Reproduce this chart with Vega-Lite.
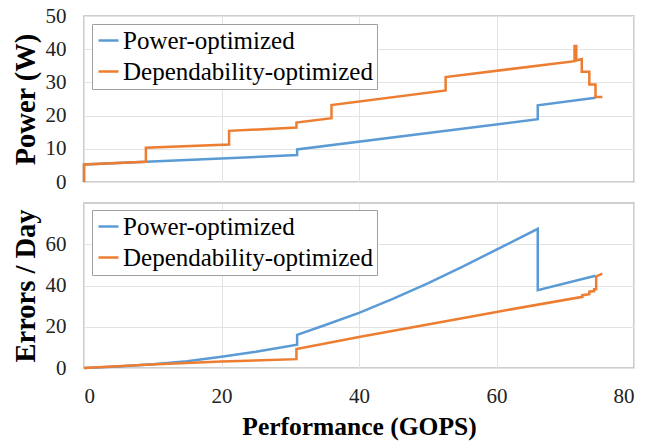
{
  "$schema": "https://vega.github.io/schema/vega-lite/v6.json",
  "padding": {"left": 10, "top": 4, "right": 9, "bottom": 0},
  "background": "white",
  "bounds": "flush",
  "spacing": 21,
  "datasets": {
    "power": [
      {"s": "Power-optimized", "i": 1, "g": 0, "v": 0},
      {"s": "Power-optimized", "i": 2, "g": 0, "v": 5.3},
      {"s": "Power-optimized", "i": 3, "g": 9, "v": 6.1},
      {"s": "Power-optimized", "i": 4, "g": 31, "v": 8.1},
      {"s": "Power-optimized", "i": 5, "g": 31, "v": 9.8},
      {"s": "Power-optimized", "i": 6, "g": 66, "v": 18.9},
      {"s": "Power-optimized", "i": 7, "g": 66, "v": 23.1},
      {"s": "Power-optimized", "i": 8, "g": 74.4, "v": 25.4},
      {"s": "Dependability-optimized", "i": 1, "g": 0, "v": 0},
      {"s": "Dependability-optimized", "i": 2, "g": 0, "v": 5.3},
      {"s": "Dependability-optimized", "i": 3, "g": 9, "v": 6.1},
      {"s": "Dependability-optimized", "i": 4, "g": 9, "v": 10.3},
      {"s": "Dependability-optimized", "i": 5, "g": 21.1, "v": 11.3},
      {"s": "Dependability-optimized", "i": 6, "g": 21.1, "v": 15.4},
      {"s": "Dependability-optimized", "i": 7, "g": 30.9, "v": 16.4},
      {"s": "Dependability-optimized", "i": 8, "g": 30.9, "v": 17.9},
      {"s": "Dependability-optimized", "i": 9, "g": 36, "v": 19.2},
      {"s": "Dependability-optimized", "i": 10, "g": 36, "v": 23.2},
      {"s": "Dependability-optimized", "i": 11, "g": 52.6, "v": 27.6},
      {"s": "Dependability-optimized", "i": 12, "g": 52.6, "v": 31.6},
      {"s": "Dependability-optimized", "i": 13, "g": 71.35, "v": 36.4},
      {"s": "Dependability-optimized", "i": 14, "g": 71.35, "v": 41},
      {"s": "Dependability-optimized", "i": 15, "g": 71.6, "v": 41},
      {"s": "Dependability-optimized", "i": 16, "g": 71.6, "v": 36.6},
      {"s": "Dependability-optimized", "i": 17, "g": 72.4, "v": 37},
      {"s": "Dependability-optimized", "i": 18, "g": 72.4, "v": 33.2},
      {"s": "Dependability-optimized", "i": 19, "g": 73.5, "v": 33.2},
      {"s": "Dependability-optimized", "i": 20, "g": 73.5, "v": 29.4},
      {"s": "Dependability-optimized", "i": 21, "g": 74.4, "v": 29.4},
      {"s": "Dependability-optimized", "i": 22, "g": 74.4, "v": 25.6},
      {"s": "Dependability-optimized", "i": 23, "g": 75.4, "v": 25.6}
    ],
    "errors": [
      {"s": "Power-optimized", "i": 1, "g": 0, "v": 0},
      {"s": "Power-optimized", "i": 2, "g": 5, "v": 0.7},
      {"s": "Power-optimized", "i": 3, "g": 10, "v": 1.8},
      {"s": "Power-optimized", "i": 4, "g": 15, "v": 3.3},
      {"s": "Power-optimized", "i": 5, "g": 20, "v": 5.5},
      {"s": "Power-optimized", "i": 6, "g": 25, "v": 7.9},
      {"s": "Power-optimized", "i": 7, "g": 31, "v": 11.3},
      {"s": "Power-optimized", "i": 8, "g": 31, "v": 16.1},
      {"s": "Power-optimized", "i": 9, "g": 35, "v": 20.7},
      {"s": "Power-optimized", "i": 10, "g": 40, "v": 26.7},
      {"s": "Power-optimized", "i": 11, "g": 45, "v": 33.6},
      {"s": "Power-optimized", "i": 12, "g": 50, "v": 41},
      {"s": "Power-optimized", "i": 13, "g": 55, "v": 49},
      {"s": "Power-optimized", "i": 14, "g": 60, "v": 57.4},
      {"s": "Power-optimized", "i": 15, "g": 66, "v": 67.5},
      {"s": "Power-optimized", "i": 16, "g": 66, "v": 37.7},
      {"s": "Power-optimized", "i": 17, "g": 74.4, "v": 44.7},
      {"s": "Dependability-optimized", "i": 1, "g": 0, "v": 0},
      {"s": "Dependability-optimized", "i": 2, "g": 9, "v": 1.6},
      {"s": "Dependability-optimized", "i": 3, "g": 20, "v": 3.1},
      {"s": "Dependability-optimized", "i": 4, "g": 30.9, "v": 4.3},
      {"s": "Dependability-optimized", "i": 5, "g": 30.9, "v": 9.2},
      {"s": "Dependability-optimized", "i": 6, "g": 40, "v": 15},
      {"s": "Dependability-optimized", "i": 7, "g": 50, "v": 21.1},
      {"s": "Dependability-optimized", "i": 8, "g": 60, "v": 27.2},
      {"s": "Dependability-optimized", "i": 9, "g": 72.5, "v": 34.5},
      {"s": "Dependability-optimized", "i": 10, "g": 72.5, "v": 35.3},
      {"s": "Dependability-optimized", "i": 11, "g": 73.5, "v": 35.8},
      {"s": "Dependability-optimized", "i": 12, "g": 73.5, "v": 37},
      {"s": "Dependability-optimized", "i": 13, "g": 74.2, "v": 37.3},
      {"s": "Dependability-optimized", "i": 14, "g": 74.2, "v": 38.2},
      {"s": "Dependability-optimized", "i": 15, "g": 74.5, "v": 38.3},
      {"s": "Dependability-optimized", "i": 16, "g": 74.5, "v": 44.4},
      {"s": "Dependability-optimized", "i": 17, "g": 75.4, "v": 45.8}
    ]
  },
  "vconcat": [
    {
      "width": 550,
      "height": 166,
      "data": {"name": "power"},
      "encoding": {
        "x": {"field": "g", "type": "quantitative", "scale": {"domain": [0, 80], "nice": false},
              "axis": {"title": null, "labels": false, "values": [0, 20, 40, 60, 80], "grid": true}},
        "y": {"field": "v", "type": "quantitative", "scale": {"domain": [0, 50], "nice": false},
              "axis": {"title": "Power (W)", "values": [0, 10, 20, 30, 40, 50], "labelPadding": 18, "titleX": -50}},
        "color": {"field": "s", "type": "nominal",
                  "scale": {"domain": ["Power-optimized", "Dependability-optimized"], "range": ["#5B9BD5", "#ED7D31"]},
                  "legend": {"title": null, "orient": "none", "legendX": 8, "legendY": 8}},
        "order": {"field": "i", "type": "quantitative"}
      },
      "layer": [
        {"transform": [{"filter": "datum.s === 'Power-optimized'"}], "mark": {"type": "line", "strokeWidth": 2.5}},
        {"transform": [{"filter": "datum.s === 'Dependability-optimized'"}], "mark": {"type": "line", "strokeWidth": 2.5}}
      ]
    },
    {
      "width": 550,
      "height": 165,
      "data": {"name": "errors"},
      "encoding": {
        "x": {"field": "g", "type": "quantitative", "scale": {"domain": [0, 80], "nice": false},
              "axis": {"title": "Performance (GOPS)", "values": [0, 20, 40, 60, 80], "grid": true, "labelPadding": 17,
                       "titleY": 66, "titleBaseline": "alphabetic", "titleFontSize": 25.5}},
        "y": {"field": "v", "type": "quantitative", "scale": {"domain": [0, 80], "nice": false},
              "axis": {"title": "Errors / Day", "values": [0, 20, 40, 60], "labelPadding": 18, "titleX": -50}},
        "color": {"field": "s", "type": "nominal",
                  "scale": {"domain": ["Power-optimized", "Dependability-optimized"], "range": ["#5B9BD5", "#ED7D31"]},
                  "legend": {"title": null, "orient": "none", "legendX": 8, "legendY": 7}},
        "order": {"field": "i", "type": "quantitative"}
      },
      "layer": [
        {"transform": [{"filter": "datum.s === 'Power-optimized'"}], "mark": {"type": "line", "strokeWidth": 2.5}},
        {"transform": [{"filter": "datum.s === 'Dependability-optimized'"}], "mark": {"type": "line", "strokeWidth": 2.5}}
      ]
    }
  ],
  "resolve": {"scale": {"color": "independent"}, "legend": {"color": "independent"}},
  "config": {
    "view": {"stroke": "#bfbfbf", "strokeWidth": 1.5},
    "axis": {
      "labelFont": "Liberation Serif, Times New Roman, serif", "labelFontSize": 21, "labelColor": "#222222",
      "titleFont": "Liberation Serif, Times New Roman, serif", "titleFontWeight": "bold", "titleFontSize": 28.5, "titleColor": "#000000",
      "titleBaseline": "alphabetic",
      "gridColor": "#e3e3e3", "gridWidth": 1, "domain": false, "ticks": false
    },
    "legend": {
      "labelFont": "Liberation Serif, Times New Roman, serif", "labelFontSize": 25, "labelColor": "#000000", "labelLimit": 400,
      "symbolType": "stroke", "symbolSize": 400, "symbolStrokeWidth": 2.5, "labelOffset": 2,
      "strokeColor": "#a0a0a0", "fillColor": "white", "padding": 4, "rowPadding": 5, "cornerRadius": 0
    }
  }
}
